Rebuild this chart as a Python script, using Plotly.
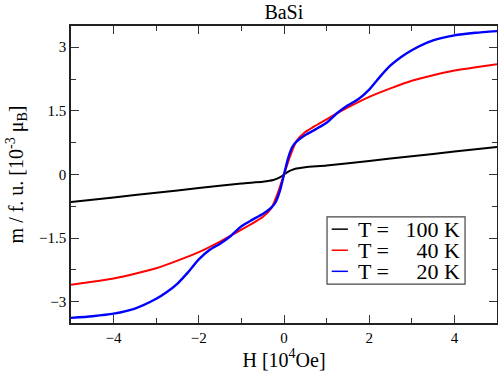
import plotly.graph_objects as go

# field H in 10^4 Oe
h_100 = [-5, -4, -3, -2, -1, -0.5, -0.25, -0.1, 0, 0.1, 0.25, 0.5, 1, 2, 3, 4, 5]
m_100 = [-0.65, -0.54, -0.43, -0.32, -0.21, -0.17, -0.13, -0.07, 0.0,
         0.07, 0.13, 0.17, 0.21, 0.32, 0.43, 0.54, 0.65]

h_40 = [-5, -4.5, -4, -3.5, -3, -2.5, -2, -1.5, -1, -0.5, -0.3, -0.15, 0,
        0.15, 0.3, 0.5, 1, 1.5, 2, 2.5, 3, 3.5, 4, 4.5, 5]
m_40 = [-2.60, -2.53, -2.45, -2.34, -2.21, -2.03, -1.83, -1.58, -1.30, -1.00, -0.80, -0.45, 0.0,
        0.45, 0.80, 1.00, 1.30, 1.58, 1.83, 2.03, 2.21, 2.34, 2.45, 2.53, 2.60]

h_20 = [-5, -4.5, -4, -3.5, -3, -2.75, -2.5, -2.25, -2, -1.75, -1.5, -1.25, -1, -0.75, -0.5,
        -0.3, -0.2, -0.1, 0, 0.1, 0.2, 0.3, 0.5, 0.75, 1, 1.25, 1.5, 1.75, 2, 2.25,
        2.5, 2.75, 3, 3.5, 4, 4.5, 5]
m_20 = [-3.38, -3.34, -3.28, -3.16, -2.93, -2.77, -2.57, -2.30, -2.00, -1.78, -1.63, -1.45, -1.22,
        -1.07, -0.93, -0.78, -0.66, -0.40, 0.0, 0.40, 0.66, 0.78, 0.93, 1.07, 1.22, 1.45, 1.63,
        1.78, 2.00, 2.30, 2.57, 2.77, 2.93, 3.16, 3.28, 3.34, 3.38]

nb = "\u00a0"
series = [
    (h_100, m_100, "black", f"T ={nb * 3}100 K"),
    (h_40, m_40, "#ff0000", f"T ={nb * 5}40 K"),
    (h_20, m_20, "#0000ff", f"T ={nb * 5}20 K"),
]

font = "Liberation Serif"
fig = go.Figure()
for h, m, color, name in series:
    fig.add_trace(go.Scatter(x=h, y=m, mode="lines", name=name, showlegend=False,
                             line=dict(color=color, width=2.4 if color == "#0000ff" else 2,
                                       shape="spline", smoothing=0.6)))

# legend drawn by hand so the rows sit as tightly as in the original
fig.add_shape(type="rect", xref="paper", yref="paper", x0=0.601, x1=0.925, y0=0.131, y1=0.357,
              line=dict(color="#444", width=1.2), fillcolor="white", layer="above")
row_y = [0.316, 0.245, 0.174]
for (h, m, color, name), yy in zip(series, row_y):
    fig.add_shape(type="line", xref="paper", yref="paper", x0=0.612, x1=0.650, y0=yy, y1=yy,
                  line=dict(color=color, width=1.5), layer="above")
    fig.add_annotation(x=0.668, y=yy, xref="paper", yref="paper", text=name, showarrow=False,
                       xanchor="left", yanchor="middle", font=dict(family=font, size=22, color="black"))

axis_style = dict(
    showgrid=False, zeroline=False, showline=True, linecolor="#222", linewidth=1.5,
    mirror="allticks", ticks="inside", ticklen=8, tickwidth=1.2, tickcolor="#333",
    tickfont=dict(family=font, size=15, color="black"), automargin=False,
)

fig.update_layout(
    width=498, height=375,
    margin=dict(l=71, r=1, t=26, b=52),
    paper_bgcolor="white", plot_bgcolor="white",
    font=dict(family=font, color="black"),
    title=dict(text="BaSi", x=0.57, xanchor="center", y=0.968, yanchor="middle",
               font=dict(family=font, size=20)),
    xaxis=dict(range=[-5, 5], tickvals=[-4, -2, 0, 2, 4],
               minor=dict(dtick=1, ticks="inside", ticklen=5, tickcolor="#333"),
               title=dict(text="H [10<sup>4</sup>Oe]", font=dict(family=font, size=20), standoff=8),
               **axis_style),
    yaxis=dict(range=[-3.5, 3.5], tickvals=[-3, -1.5, 0, 1.5, 3],
               minor=dict(dtick=0.75, tick0=0, ticks="inside", ticklen=5, tickcolor="#333"),
               title=dict(text="m / f. u. [10<sup>-3</sup> \u03bc<sub>B</sub>]",
                          font=dict(family=font, size=20), standoff=10),
               **axis_style),
    showlegend=False,
)

# drop the default page margin so the figure sits at the window's corner
fig.write_html("out.html", config={"displayModeBar": False},
               post_script="document.body.style.margin='0';")
